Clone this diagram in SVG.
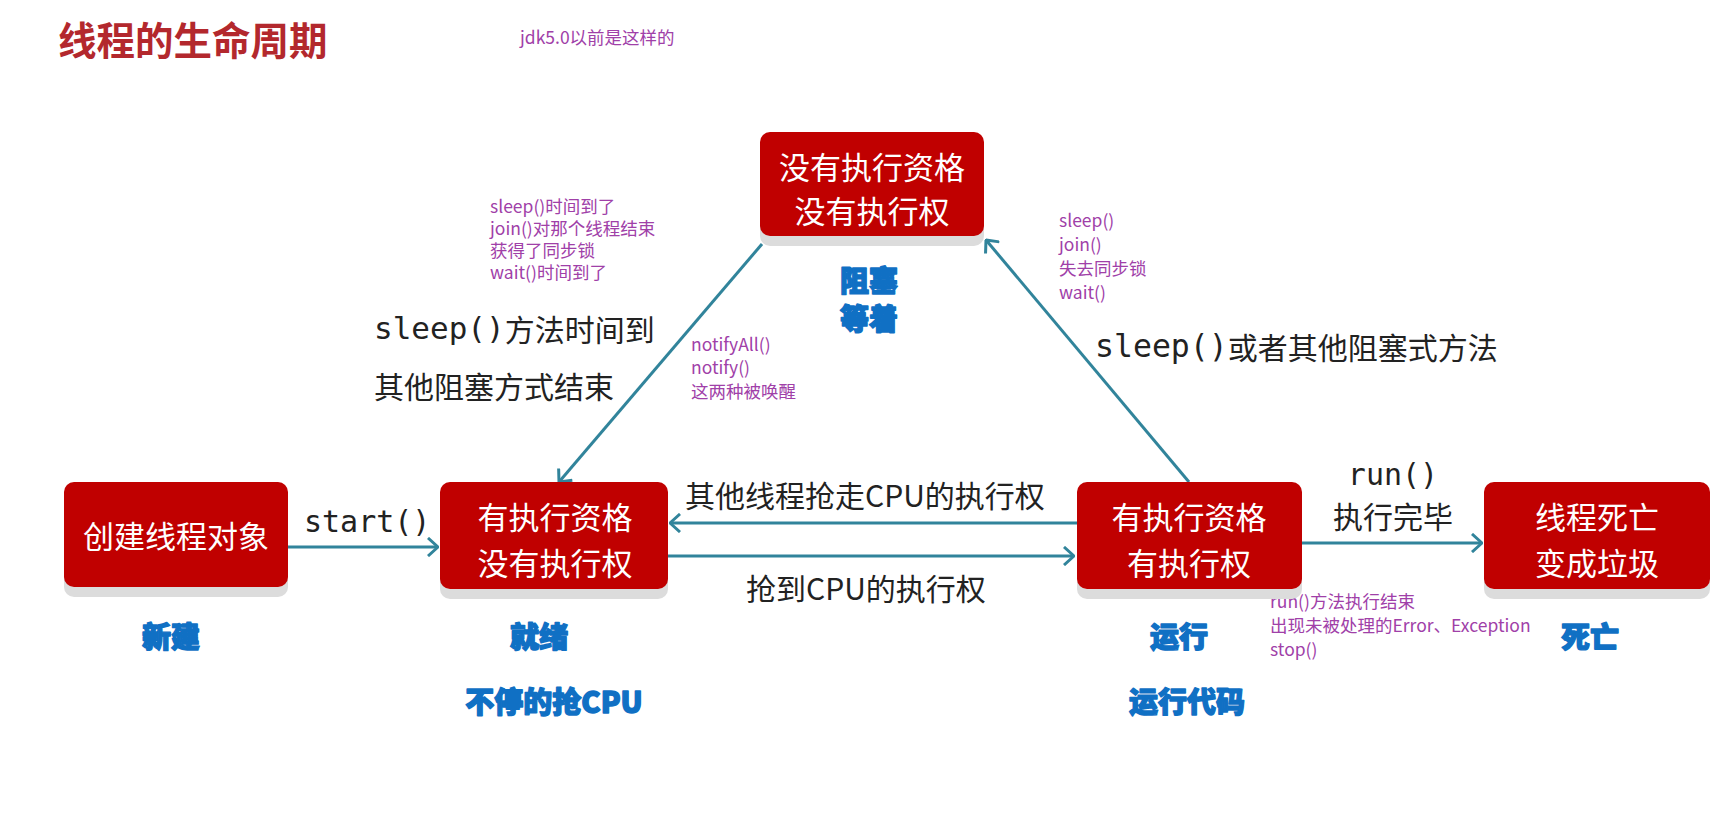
<svg xmlns="http://www.w3.org/2000/svg" width="1726" height="814" viewBox="0 0 1726 814">
<defs>
<style>
.box{fill:#C00000}
.shadow{fill:#DCDCDC}
.bt{fill:#FFFFFF;font-family:"Noto Sans CJK SC","Liberation Sans",sans-serif;font-size:31px;text-anchor:middle;dominant-baseline:central}
.lbl{fill:#1070C4;stroke:#1070C4;stroke-width:1.4;stroke-linejoin:round;font-family:"Noto Sans CJK SC",sans-serif;font-weight:900;font-size:29px;text-anchor:middle;dominant-baseline:central}
.conn{stroke:#31849B;stroke-width:3;fill:none}
.dk{fill:#222222;font-family:"Noto Sans CJK SC","Liberation Sans",sans-serif;font-size:30px;dominant-baseline:central}
.mono{font-family:"DejaVu Sans Mono","Liberation Mono",monospace}
.pp{fill:#A040A8;font-family:"Noto Sans CJK SC","Liberation Sans",sans-serif;font-size:17.5px;dominant-baseline:central}
</style>
<marker id="ah" viewBox="0 0 12 20" refX="11" refY="10" markerWidth="12" markerHeight="20" markerUnits="userSpaceOnUse" orient="auto">
<path d="M1,1 L11,10 L1,19" fill="none" stroke="#31849B" stroke-width="3"/>
</marker>
</defs>
<rect width="1726" height="814" fill="#FFFFFF"/>
<text x="58" y="38" fill="#B3282D" font-family="Noto Sans CJK SC,sans-serif" font-weight="bold" font-size="38.5" dominant-baseline="central">线程的生命周期</text>
<text x="520" y="36" class="pp" font-size="19">jdk5.0以前是这样的</text>

<g id="connectors">
<line class="conn" x1="288" y1="547" x2="438" y2="547" marker-end="url(#ah)"/>
<line class="conn" x1="1077" y1="523" x2="670" y2="523" marker-end="url(#ah)"/>
<line class="conn" x1="668" y1="556" x2="1074" y2="556" marker-end="url(#ah)"/>
<line class="conn" x1="1302" y1="543" x2="1482" y2="543" marker-end="url(#ah)"/>
<line class="conn" x1="762" y1="244" x2="559" y2="482" marker-end="url(#ah)"/>
<line class="conn" x1="1189" y1="482" x2="986" y2="240" marker-end="url(#ah)"/>
<text x="304" y="521" class="dk mono" font-size="28">start()</text>
<text x="685" y="494" class="dk" font-size="30.5">其他线程抢走CPU的执行权</text>
<text x="746" y="587" class="dk" font-size="30.5">抢到CPU的执行权</text>
<text x="1393" y="474" class="dk mono" font-size="28" text-anchor="middle">run()</text>
<text x="1393" y="515" class="dk" font-size="29" text-anchor="middle">执行完毕</text>
<text x="374" y="328" class="dk" font-size="30.5"><tspan class="mono" font-size="31">sleep()</tspan>方法时间到</text>
<text x="374" y="385" class="dk" font-size="31">其他阻塞方式结束</text>
<text x="1095" y="346" class="dk" font-size="30.5"><tspan class="mono" font-size="31.5">sleep()</tspan>或者其他阻塞式方法</text>
<text class="pp"><tspan x="490" y="205">sleep()时间到了</tspan><tspan x="490" y="227">join()对那个线程结束</tspan><tspan x="490" y="249">获得了同步锁</tspan><tspan x="490" y="271">wait()时间到了</tspan></text>
<text class="pp"><tspan x="691" y="343">notifyAll()</tspan><tspan x="691" y="366">notify()</tspan><tspan x="691" y="390">这两种被唤醒</tspan></text>
<text class="pp"><tspan x="1059" y="219">sleep()</tspan><tspan x="1059" y="243">join()</tspan><tspan x="1059" y="267">失去同步锁</tspan><tspan x="1059" y="291">wait()</tspan></text>
<text class="pp"><tspan x="1270" y="600">run()方法执行结束</tspan><tspan x="1270" y="624">出现未被处理的Error、Exception</tspan><tspan x="1270" y="648">stop()</tspan></text>
</g>

<g id="node-new">
<rect class="shadow" x="64" y="492" width="224" height="105" rx="10"/>
<rect class="box" x="64" y="482" width="224" height="105" rx="10"/>
<text class="bt" x="176" y="534">创建线程对象</text>
<text class="lbl" x="171" y="635">新建</text>
</g>

<g id="node-ready">
<rect class="shadow" x="440" y="492" width="228" height="107" rx="10"/>
<rect class="box" x="440" y="482" width="228" height="107" rx="10"/>
<text class="bt" x="555" y="515">有执行资格</text>
<text class="bt" x="555" y="561">没有执行权</text>
<text class="lbl" x="539" y="635">就绪</text>
<text class="lbl" x="554" y="700" font-size="30.5">不停的抢CPU</text>
</g>

<g id="node-running">
<rect class="shadow" x="1077" y="492" width="225" height="107" rx="10"/>
<rect class="box" x="1077" y="482" width="225" height="107" rx="10"/>
<text class="bt" x="1189" y="515">有执行资格</text>
<text class="bt" x="1189" y="561">有执行权</text>
<text class="lbl" x="1179" y="635">运行</text>
<text class="lbl" x="1187" y="700">运行代码</text>
</g>

<g id="node-dead">
<rect class="shadow" x="1484" y="492" width="226" height="107" rx="10"/>
<rect class="box" x="1484" y="482" width="226" height="107" rx="10"/>
<text class="bt" x="1597" y="515">线程死亡</text>
<text class="bt" x="1597" y="561">变成垃圾</text>
<text class="lbl" x="1590" y="635">死亡</text>
</g>

<g id="node-blocked">
<rect class="shadow" x="760" y="142" width="224" height="104" rx="10"/>
<rect class="box" x="760" y="132" width="224" height="104" rx="10"/>
<text class="bt" x="872" y="165">没有执行资格</text>
<text class="bt" x="872" y="209">没有执行权</text>
<text class="lbl" x="869" y="279" font-size="24.5">阻塞</text>
<text class="lbl" x="869" y="317" font-size="24.5">等着</text>
</g>
</svg>
